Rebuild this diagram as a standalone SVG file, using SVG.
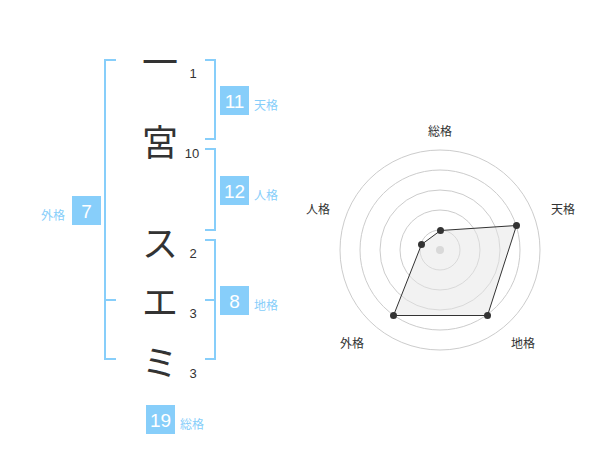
<svg xmlns="http://www.w3.org/2000/svg" width="600" height="470" viewBox="0 0 600 470">
<style>
.br{fill:none;stroke:#87cefa;stroke-width:2}
.ch{font-family:"Noto Sans CJK JP","Noto Sans",sans-serif;font-size:36px;fill:#333;text-anchor:middle;dominant-baseline:central}
.num{font-family:"Liberation Sans",Arial,sans-serif;font-size:13px;fill:#333;text-anchor:middle}
.box{fill:#87cefa}
.bv{font-family:"Liberation Sans",Arial,sans-serif;font-size:19px;fill:#fff;text-anchor:middle}
.lb{font-family:"Noto Sans CJK JP",sans-serif;font-size:12px;fill:#87cefa;dominant-baseline:central}
.rl{font-family:"Noto Sans CJK JP",sans-serif;font-size:12px;fill:#333;text-anchor:middle;dominant-baseline:central}
.ring{fill:none;stroke:#cccccc;stroke-width:1}
.pt{fill:#333}
</style>
<rect width="600" height="470" fill="#fff"/>
<g id="chars">
<text class="ch" x="160" y="60">一</text>
<text class="ch" x="160" y="140">宮</text>
<text class="ch" x="160" y="241">ス</text>
<text class="ch" x="160" y="300">エ</text>
<text class="ch" x="160" y="360">ミ</text>
</g>
<g id="strokes">
<text class="num" x="193" y="78">1</text>
<text class="num" x="192" y="158">10</text>
<text class="num" x="193" y="258">2</text>
<text class="num" x="193" y="318">3</text>
<text class="num" x="193" y="378">3</text>
</g>
<g id="connectors">
<path class="br" d="M116,60 H105 V359 H116 M105,300 H116"/>
<path class="br" d="M205,60 H215 V139 H205"/>
<path class="br" d="M205,149 H215 V230 H205"/>
<path class="br" d="M205,240 H215 V359 H205 M205,300 H215"/>
</g>
<g id="tenkaku">
<rect class="box" x="220" y="86" width="29" height="29"/>
<text class="bv" x="234.5" y="107.5">11</text>
<text class="lb" x="254" y="104">天格</text>
</g>
<g id="jinkaku">
<rect class="box" x="220" y="176" width="29" height="29"/>
<text class="bv" x="234.5" y="197.5">12</text>
<text class="lb" x="254" y="194">人格</text>
</g>
<g id="gaikaku">
<rect class="box" x="72" y="196" width="29" height="29"/>
<text class="bv" x="86.5" y="217.5">7</text>
<text class="lb" x="41" y="214">外格</text>
</g>
<g id="chikaku">
<rect class="box" x="220" y="286" width="29" height="29"/>
<text class="bv" x="234.5" y="307.5">8</text>
<text class="lb" x="254" y="304">地格</text>
</g>
<g id="soukaku">
<rect class="box" x="146" y="405" width="29" height="29"/>
<text class="bv" x="160.5" y="426.5">19</text>
<text class="lb" x="180" y="423">総格</text>
</g>
<g id="radar">
<circle class="ring" cx="440" cy="250" r="20"/>
<circle class="ring" cx="440" cy="250" r="40"/>
<circle class="ring" cx="440" cy="250" r="60"/>
<circle class="ring" cx="440" cy="250" r="80"/>
<circle class="ring" cx="440" cy="250" r="100"/>
<circle cx="440" cy="250" r="4" fill="#cccccc"/>
<polygon points="440.5,230.5 516.5,225.5 487.5,315.5 393.5,315.5 421.5,244.5" fill="#e6e6e6" fill-opacity="0.5" stroke="#333" stroke-width="1"/>
<circle class="pt" cx="440.5" cy="230.5" r="3.5"/>
<circle class="pt" cx="516.5" cy="225.5" r="3.5"/>
<circle class="pt" cx="487.5" cy="315.5" r="3.5"/>
<circle class="pt" cx="393.5" cy="315.5" r="3.5"/>
<circle class="pt" cx="421.5" cy="244.5" r="3.5"/>
<text class="rl" x="440" y="130">総格</text>
<text class="rl" x="563" y="208">天格</text>
<text class="rl" x="523" y="342">地格</text>
<text class="rl" x="352" y="342">外格</text>
<text class="rl" x="318" y="208">人格</text>
</g>
</svg>
